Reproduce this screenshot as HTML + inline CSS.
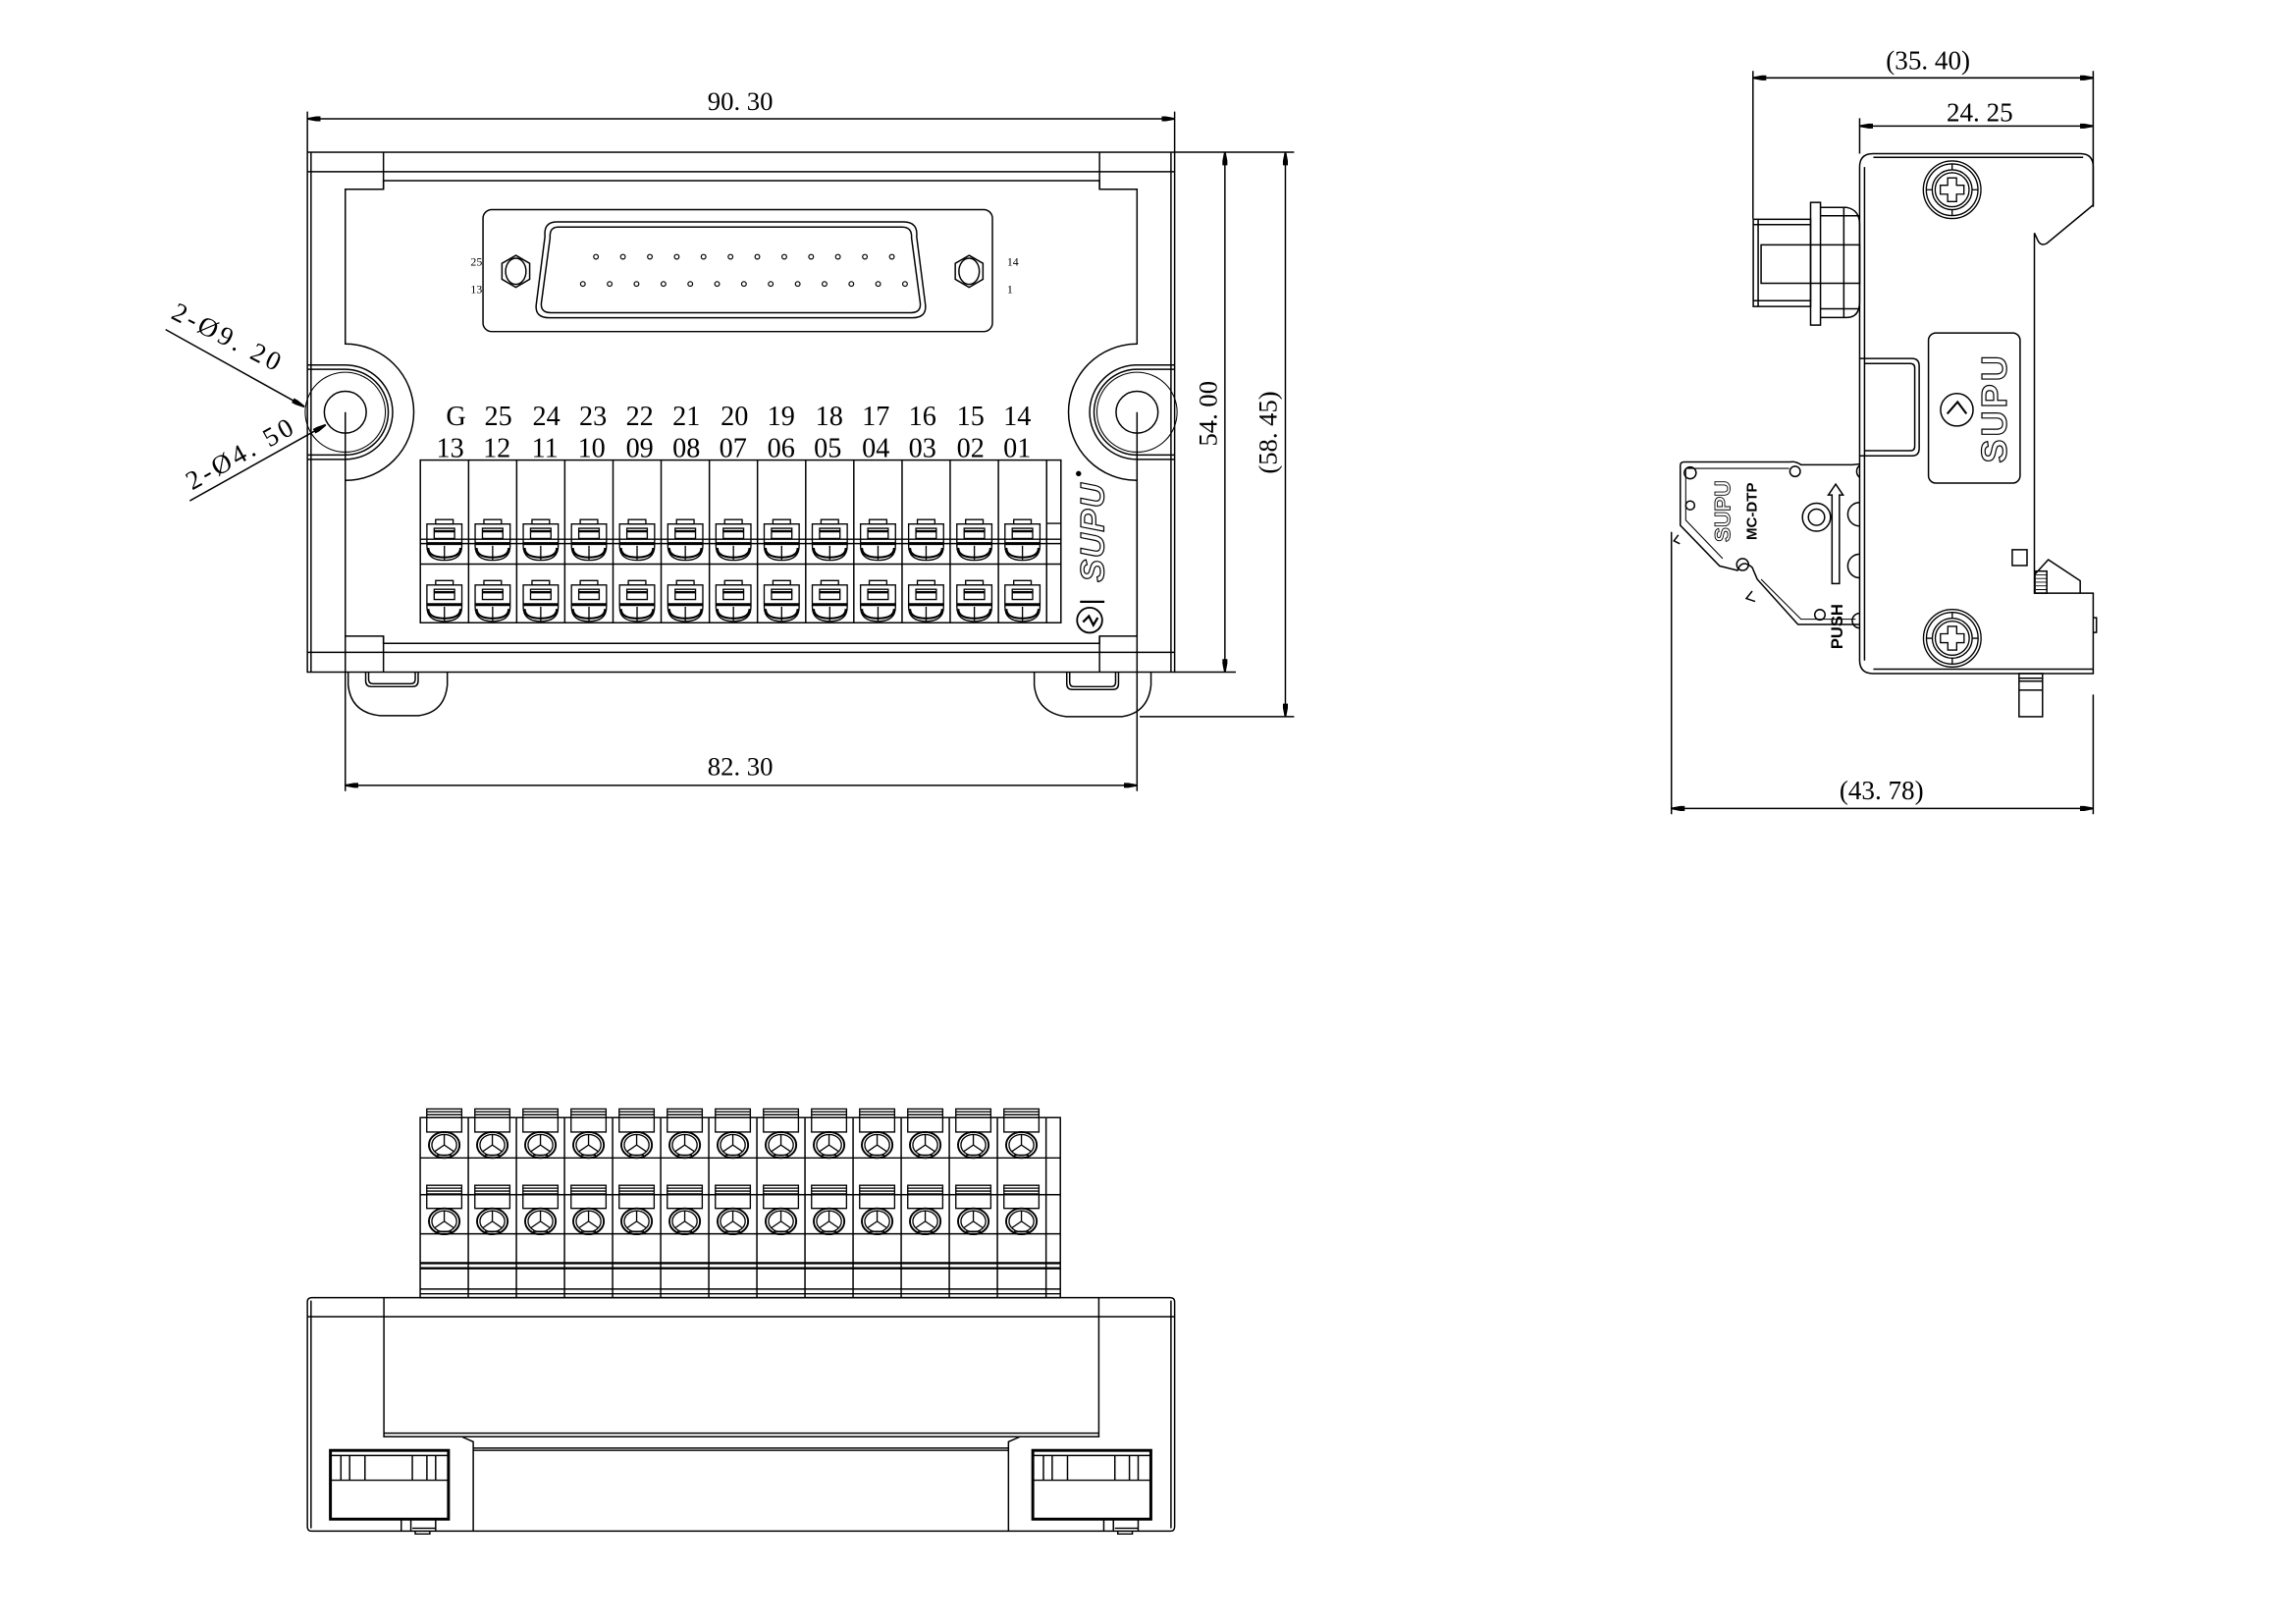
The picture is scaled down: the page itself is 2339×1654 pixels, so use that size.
<!DOCTYPE html>
<html><head><meta charset="utf-8"><style>
html,body{margin:0;padding:0;background:#fff}
svg{display:block;font-family:"Liberation Serif",serif}
</style></head><body>
<svg width="2339" height="1654" viewBox="0 0 1554 1099" xmlns="http://www.w3.org/2000/svg">
<defs>
<marker id="a" markerUnits="userSpaceOnUse" markerWidth="10" markerHeight="4" refX="9" refY="2" orient="auto-start-reverse"><path d="M0,0.3 L3,0.3 L9,1.4 L9,2.6 L3,3.7 L0,3.7 Z" fill="#000"/></marker>
<g id="tc" fill="none" stroke="#000" stroke-width="0.9">
<path d="M-6,0 H6 V3 H-6 Z"/>
<path d="M-12,3 H12 V18 Q12,28 0,28 Q-12,28 -12,18 Z"/>
<path d="M-7,6 H7 V13 H-7 Z"/>
<path d="M-7,8 H7" stroke-width="1.6"/>
<path d="M-12,16.5 H12" stroke-width="2"/>
<path d="M-11,19.5 Q-11,26 0,26 Q11,26 11,19.5" stroke-width="1.4"/>
<path d="M0,18 V28"/>
</g>
<g id="bm" fill="none" stroke="#000" stroke-width="0.9">
<path d="M-12,0 H12 V6 H-12 Z M-12,2 H12 M-12,4 H12" />
<path d="M-12,6 H12 V16 H-12 Z"/>
<ellipse cx="0" cy="25" rx="10.5" ry="9" stroke-width="1.3"/>
<ellipse cx="0" cy="25" rx="8.5" ry="7.3"/>
<path d="M0,25 V17.5 M0,25 L-6.5,29.5 M0,25 L6.5,29.5 M-5,32 H5"/>
</g>
<g id="scr" fill="none" stroke="#000" stroke-width="0.9">
<circle r="19.5"/><circle r="17.5"/><circle r="13.5"/><circle r="11.5"/>
<path d="M-3,-8 H3 V-3 H8 V3 H3 V8 H-3 V3 H-8 V-3 H-3 Z"/>
<path d="M0,-17.5 V-13.5 M0,17.5 V13.5 M-17.5,0 H-13.5 M17.5,0 H13.5"/>
</g>
</defs>

<!-- ================= FRONT VIEW ================= -->
<g transform="matrix(0.9866 0 0 0.9827 2.78 1.8)" fill="none" stroke="#000" stroke-width="1">
<line x1="208" y1="80" x2="803" y2="80" marker-start="url(#a)" marker-end="url(#a)"/>
<path d="M208,75 V103 M803,75 V103"/>
<text x="505" y="74" font-size="18" text-anchor="middle" stroke="none" fill="#000">90. 30</text>
<rect x="208" y="103" width="595" height="358"/>
<path d="M210.5,103 V461 M800.5,103 V461"/>
<path d="M208,116.4 H803 M208,447.4 H803"/>
<path d="M260.2,103 V128.5 M751.5,103 V128.5 M260.2,436.2 V461 M751.5,436.2 V461"/>
<path d="M234,128.5 H260.2 V122.6 H751.5 V128.5 H777.2 V235 A47,47 0 0 0 777.2,329 V436.2 H751.5 V441.2 H260.2 V436.2 H234 V329 A47,47 0 0 0 234,235 Z"/>
<path d="M208,249.5 H234 A32.5,32.5 0 0 1 234,314.5 H208 M208,252.5 H234 A29.5,29.5 0 0 1 234,311.5 H208"/>
<circle cx="234" cy="282" r="27.5" stroke-width="0.7"/>
<circle cx="234" cy="282" r="14.4"/>
<path d="M803,249.5 H777.2 A32.5,32.5 0 0 0 777.2,314.5 H803 M803,252.5 H777.2 A29.5,29.5 0 0 0 777.2,311.5 H803"/>
<circle cx="777.2" cy="282" r="27.5" stroke-width="0.7"/>
<circle cx="777.2" cy="282" r="14.4"/>
<path d="M234,282 V543 M777.2,282 V543"/>
<rect x="328.5" y="142.5" width="349.5" height="84" rx="6"/>
<path d="M379,151 H617 Q627,151 626,161 L632,208 Q633,217 623,217 H374 Q364,217 365,208 L371,161 Q370,151 379,151 Z"/>
<path d="M380,154.5 H616 Q623,154.5 622.5,162 L628.5,207 Q629,213.5 622,213.5 H375 Q368,213.5 368.5,207 L374.5,162 Q374,154.5 380,154.5 Z"/>
<g fill="none" stroke-width="0.8">
<circle cx="406" cy="175" r="1.6"/><circle cx="424.5" cy="175" r="1.6"/><circle cx="443" cy="175" r="1.6"/><circle cx="461.4" cy="175" r="1.6"/><circle cx="479.8" cy="175" r="1.6"/><circle cx="498.3" cy="175" r="1.6"/><circle cx="516.7" cy="175" r="1.6"/><circle cx="535.2" cy="175" r="1.6"/><circle cx="553.6" cy="175" r="1.6"/><circle cx="572" cy="175" r="1.6"/><circle cx="590.5" cy="175" r="1.6"/><circle cx="609" cy="175" r="1.6"/>
<circle cx="397" cy="193.7" r="1.6"/><circle cx="415.4" cy="193.7" r="1.6"/><circle cx="433.8" cy="193.7" r="1.6"/><circle cx="452.3" cy="193.7" r="1.6"/><circle cx="470.7" cy="193.7" r="1.6"/><circle cx="489.1" cy="193.7" r="1.6"/><circle cx="507.5" cy="193.7" r="1.6"/><circle cx="525.9" cy="193.7" r="1.6"/><circle cx="544.4" cy="193.7" r="1.6"/><circle cx="562.8" cy="193.7" r="1.6"/><circle cx="581.2" cy="193.7" r="1.6"/><circle cx="599.6" cy="193.7" r="1.6"/><circle cx="618" cy="193.7" r="1.6"/>
</g>
<path d="M351,174 L360.5,179.5 V190.5 L351,196 L341.5,190.5 V179.5 Z"/><ellipse cx="351" cy="185" rx="7" ry="9"/>
<path d="M662,174 L671.5,179.5 V190.5 L662,196 L652.5,190.5 V179.5 Z"/><ellipse cx="662" cy="185" rx="7" ry="9"/>
<g stroke="none" fill="#000" font-size="8"><text x="324" y="181" text-anchor="middle">25</text><text x="324" y="200" text-anchor="middle">13</text><text x="692" y="181" text-anchor="middle">14</text><text x="690" y="200" text-anchor="middle">1</text></g>
<rect x="285.5" y="315" width="439.5" height="112"/>
<path d="M318.6,315V427 M351.6,315V427 M384.6,315V427 M417.7,315V427 M450.7,315V427 M483.8,315V427 M516.8,315V427 M549.9,315V427 M582.9,315V427 M616,315V427 M649,315V427 M682.1,315V427 M715.2,315V427"/>
<path d="M285.5,386.6 H725 M285.5,369.5 H725 M285.5,372.5 H725 M715.2,358.6 H725"/>
<use href="#tc" x="302" y="356"/><use href="#tc" x="335.1" y="356"/><use href="#tc" x="368.1" y="356"/><use href="#tc" x="401.2" y="356"/><use href="#tc" x="434.2" y="356"/><use href="#tc" x="467.3" y="356"/><use href="#tc" x="500.3" y="356"/><use href="#tc" x="533.4" y="356"/><use href="#tc" x="566.4" y="356"/><use href="#tc" x="599.5" y="356"/><use href="#tc" x="632.5" y="356"/><use href="#tc" x="665.6" y="356"/><use href="#tc" x="698.6" y="356"/>
<use href="#tc" x="302" y="398"/><use href="#tc" x="335.1" y="398"/><use href="#tc" x="368.1" y="398"/><use href="#tc" x="401.2" y="398"/><use href="#tc" x="434.2" y="398"/><use href="#tc" x="467.3" y="398"/><use href="#tc" x="500.3" y="398"/><use href="#tc" x="533.4" y="398"/><use href="#tc" x="566.4" y="398"/><use href="#tc" x="599.5" y="398"/><use href="#tc" x="632.5" y="398"/><use href="#tc" x="665.6" y="398"/><use href="#tc" x="698.6" y="398"/>
<g stroke="none" fill="#000" font-size="19" text-anchor="middle">
<text x="310" y="291">G</text><text x="339" y="291">25</text><text x="372" y="291">24</text><text x="404" y="291">23</text><text x="436" y="291">22</text><text x="468" y="291">21</text><text x="501" y="291">20</text><text x="533" y="291">19</text><text x="566" y="291">18</text><text x="598" y="291">17</text><text x="630" y="291">16</text><text x="663" y="291">15</text><text x="695" y="291">14</text>
<text x="306" y="313">13</text><text x="338" y="313">12</text><text x="371" y="313">11</text><text x="403" y="313">10</text><text x="436" y="313">09</text><text x="468" y="313">08</text><text x="500" y="313">07</text><text x="533" y="313">06</text><text x="565" y="313">05</text><text x="598" y="313">04</text><text x="630" y="313">03</text><text x="663" y="313">02</text><text x="695" y="313">01</text>
</g>
<path d="M236,461 V470 Q238,489 258,491 H284 Q302,489 304,470 V461"/>
<path d="M248,461 V467 Q248,471 252,471 H280 Q284,471 284,467 V461 M250,461 V466 Q250,469 253,469 H279 Q282,469 282,466 V461"/>
<path d="M706.7,461 V470 Q708.7,489 728.7,491.7 H766.8 Q784.8,489 786.8,470 V461"/>
<path d="M729,461 V469 Q729,473 733,473 H760.5 Q764.5,473 764.5,469 V461 M731,461 V468 Q731,471 734,471 H759.5 Q762.5,471 762.5,468 V461"/>
<line x1="837.5" y1="103" x2="837.5" y2="461" marker-start="url(#a)" marker-end="url(#a)"/>
<line x1="879" y1="103" x2="879" y2="491.7" marker-start="url(#a)" marker-end="url(#a)"/>
<path d="M803,103 H885 M803,461 H845 M779,491.7 H885"/>
<text transform="translate(832,283) rotate(-90)" font-size="18" text-anchor="middle" stroke="none" fill="#000">54. 00</text>
<text transform="translate(873,296) rotate(-90)" font-size="18" text-anchor="middle" stroke="none" fill="#000">(58. 45)</text>
<line x1="234" y1="539" x2="777.2" y2="539" marker-start="url(#a)" marker-end="url(#a)"/>
<text x="505" y="532" font-size="18" text-anchor="middle" stroke="none" fill="#000">82. 30</text>
</g>
<text transform="translate(747,360) rotate(-90)" style="font-family:'Liberation Sans',sans-serif;font-weight:bold;font-style:italic" font-size="23" text-anchor="middle" fill="none" stroke="#000" stroke-width="0.8" letter-spacing="1">SUPU</text>
<circle cx="730" cy="320.5" r="1.8" fill="#000"/>
<path d="M731,407.2 H747.5" stroke="#000" stroke-width="1.5"/>
<circle cx="737.5" cy="419.7" r="8.5" fill="none" stroke="#000" stroke-width="1.2"/>
<path d="M733,421 L737,417 L740,423 L743,418" fill="none" stroke="#000" stroke-width="1.5"/>
<g stroke="#000" stroke-width="1" fill="none">
<line x1="112" y1="223" x2="206" y2="275.3" marker-end="url(#a)"/>
<line x1="128.4" y1="338.9" x2="220.4" y2="287.5" marker-end="url(#a)"/>
</g>
<text transform="translate(115,215) rotate(27)" font-size="18" textLength="80">2-Ø9. 20</text>
<text transform="translate(130,332) rotate(-29.2)" font-size="18" textLength="80">2-Ø4. 50</text>

<!-- ================= SIDE VIEW ================= -->
<g fill="none" stroke="#000" stroke-width="1">
<line x1="1186.5" y1="52.7" x2="1416.8" y2="52.7" marker-start="url(#a)" marker-end="url(#a)"/>
<line x1="1258.7" y1="85.3" x2="1416.8" y2="85.3" marker-start="url(#a)" marker-end="url(#a)"/>
<line x1="1131.3" y1="547.1" x2="1416.8" y2="547.1" marker-start="url(#a)" marker-end="url(#a)"/>
<path d="M1186.5,48 V148 M1416.8,48 V140 M1258.7,80 V104 M1131.3,360 V551 M1416.8,470 V551"/>
<path d="M1258.7,113 Q1258.7,104 1267.7,104 H1408 Q1416.8,104 1416.8,113 V138.7 L1385.4,164.7 Q1381,167 1379,162 L1377,157.7 V401.4 H1416.8 V455.8 H1267.7 Q1258.7,455.8 1258.7,446.8 Z"/>
<path d="M1262,113 V447 M1268,106.5 H1410 M1268,452.8 H1416.8"/>
<path d="M1377,389 L1386.4,378.7 L1408,393 V401.4"/>
<rect x="1377.4" y="386.5" width="8" height="14.9"/>
<path d="M1378,389 H1385 M1378,391.5 H1385 M1378,394 H1385 M1378,396.5 H1385 M1378,399 H1385" stroke-width="0.6"/>
<rect x="1362" y="372" width="10" height="10.7"/>
<path d="M1416.8,418 H1419 V428 H1416.8"/>
<rect x="1366.6" y="455.8" width="15.9" height="29.2"/>
<path d="M1366.6,459 H1382.5 M1366.6,461 H1382.5 M1366.6,467 H1382.5"/>
<use href="#scr" x="1321.3" y="128.4"/>
<use href="#scr" x="1321.4" y="431.9"/>
<rect x="1305.3" y="225.3" width="62" height="101.6" rx="5"/>
<circle cx="1324.5" cy="277.3" r="11"/>
<path d="M1318,280 L1325,272 L1331,280" stroke-width="1.4"/>
<path d="M1258.7,242.6 H1294 Q1299,242.6 1299,247.6 V303.5 Q1299,308.5 1294,308.5 H1258.7 M1262,246 H1293 Q1296,246 1296,249 V302 Q1296,305 1293,305 H1262"/>
<rect x="1186.7" y="148.4" width="38.8" height="59"/>
<path d="M1186.7,152 H1225.5 M1186.7,203.5 H1225.5 M1190,148.4 V207.4"/>
<rect x="1225.5" y="137" width="6.7" height="83"/>
<path d="M1232.2,140.4 H1250 Q1258.7,142 1258.7,152 V204 Q1258.7,214.9 1250,214.9 H1232.2 M1232.2,146 H1258.7 M1232.2,209 H1258.7 M1248,140.4 V214.9"/>
<rect x="1192" y="165.7" width="66.7" height="26"/>
<path d="M1240,394.9 V335 H1237.5 L1242.5,327.6 L1247.5,335 H1245 V394.9 Z"/>
<path d="M1137.3,315 Q1137.3,312.6 1140,312.6 H1212 Q1215,312 1219,314.5 H1253.6 L1258.7,314 M1137.3,315 V355.5 L1163.9,383 L1176,386 Q1179,378 1186,384 L1189.4,392 L1217,422.6 H1258.7"/>
<path d="M1141,317 H1211 M1141,317 V352 L1166,378 M1192,392 L1219,419 H1256" stroke-width="0.7"/>
<circle cx="1144" cy="320" r="4"/><circle cx="1144" cy="342" r="3"/><circle cx="1215" cy="319" r="3.5"/>
<circle cx="1229.5" cy="350" r="5.5"/><circle cx="1229.5" cy="350" r="9.5"/>
<circle cx="1179.5" cy="382" r="4"/><circle cx="1231.8" cy="416" r="3.5"/>
<path d="M1258.7,340 A8,8 0 0 0 1258.7,356 M1258.7,375 A8,8 0 0 0 1258.7,391 M1258.7,315 A5,5 0 0 0 1258.7,323 M1258.7,415 A5,5 0 0 0 1258.7,425"/>
<path d="M1136,362 L1133,366 L1137,368 M1186,400 L1182,405 L1188,407"/>
</g>
<text transform="translate(1171,346) rotate(-90)" style="font-family:'Liberation Sans',sans-serif;font-weight:bold" font-size="15" text-anchor="middle" fill="none" stroke="#000" stroke-width="0.6">SUPU</text>
<text transform="translate(1189,346) rotate(-90)" style="font-family:'Liberation Sans',sans-serif;font-weight:bold" font-size="10" text-anchor="middle">MC-DTP</text>
<text transform="translate(1247,424) rotate(-90)" style="font-family:'Liberation Sans',sans-serif;font-weight:bold" font-size="11" text-anchor="middle">PUSH</text>
<text transform="translate(1358,276) rotate(-90)" style="font-family:'Liberation Sans',sans-serif;font-weight:bold" font-size="24" text-anchor="middle" fill="none" stroke="#000" stroke-width="0.8" letter-spacing="2">SUPU</text>
<g font-size="18" text-anchor="middle">
<text x="1305" y="47">(35. 40)</text>
<text x="1340" y="82">24. 25</text>
<text x="1273.5" y="541">(43. 78)</text>
</g>

<!-- ================= BOTTOM VIEW ================= -->
<g transform="matrix(0.9866 0 0 0.975 2.78 15.3)" fill="none" stroke="#000" stroke-width="1">
<path d="M211,885 H800 Q803,885 803,888 V1044 Q803,1047 800,1047 H211 Q208,1047 208,1044 V888 Q208,885 211,885 Z"/>
<path d="M210.5,887 V1045 M800.5,887 V1045"/>
<path d="M208,898.2 H803"/>
<path d="M260.5,885 V981.5 H751 V885 M260.5,979 H751"/>
<path d="M313.9,981.5 L321.8,985 V1047 M697,981.5 L689,985 V1047 M321.8,989.4 H689 M321.8,991 H689"/>
<rect x="223.8" y="991" width="81" height="47.7" stroke-width="2"/>
<path d="M223.8,1011.7 H304.8 M223.8,994.5 H304.8 M231,994.5 V1011.7 M237,994.5 V1011.7 M247.5,994.5 V1011.7 M280,994.5 V1011.7 M290,994.5 V1011.7 M296,994.5 V1011.7"/>
<path d="M272.4,1038.7 V1047 M279,1038.7 V1047 M296,1038.7 V1047 M280,1045 H296 M282,1047 V1049 H292 V1047"/>
<rect x="705.7" y="991" width="81" height="47.7" stroke-width="2"/>
<path d="M705.7,1011.7 H786.7 M705.7,994.5 H786.7 M713,994.5 V1011.7 M719,994.5 V1011.7 M729.5,994.5 V1011.7 M762,994.5 V1011.7 M772,994.5 V1011.7 M778,994.5 V1011.7"/>
<path d="M754.4,1038.7 V1047 M761,1038.7 V1047 M778,1038.7 V1047 M762,1045 H778 M764,1047 V1049 H774 V1047"/>
<rect x="285.4" y="760" width="439.2" height="125"/>
<path d="M318.4,760V885 M351.4,760V885 M384.4,760V885 M417.4,760V885 M450.4,760V885 M483.4,760V885 M516.4,760V885 M549.4,760V885 M582.4,760V885 M615.4,760V885 M648.4,760V885 M681.4,760V885 M714.8,760V885"/>
<path d="M285.4,788 H724.6 M285.4,813.5 H724.6 M285.4,840.7 H724.6 M285.4,879 H724.6 M285.4,882.3 H724.6"/>
<path d="M285.4,861 H724.6 M285.4,864.6 H724.6" stroke-width="1.6"/>
<use href="#bm" x="301.9" y="754"/><use href="#bm" x="334.9" y="754"/><use href="#bm" x="367.9" y="754"/><use href="#bm" x="400.9" y="754"/><use href="#bm" x="433.9" y="754"/><use href="#bm" x="466.9" y="754"/><use href="#bm" x="499.9" y="754"/><use href="#bm" x="532.9" y="754"/><use href="#bm" x="565.9" y="754"/><use href="#bm" x="598.9" y="754"/><use href="#bm" x="631.9" y="754"/><use href="#bm" x="664.9" y="754"/><use href="#bm" x="697.9" y="754"/>
<use href="#bm" x="301.9" y="807"/><use href="#bm" x="334.9" y="807"/><use href="#bm" x="367.9" y="807"/><use href="#bm" x="400.9" y="807"/><use href="#bm" x="433.9" y="807"/><use href="#bm" x="466.9" y="807"/><use href="#bm" x="499.9" y="807"/><use href="#bm" x="532.9" y="807"/><use href="#bm" x="565.9" y="807"/><use href="#bm" x="598.9" y="807"/><use href="#bm" x="631.9" y="807"/><use href="#bm" x="664.9" y="807"/><use href="#bm" x="697.9" y="807"/>
</g>
</svg>
</body></html>
